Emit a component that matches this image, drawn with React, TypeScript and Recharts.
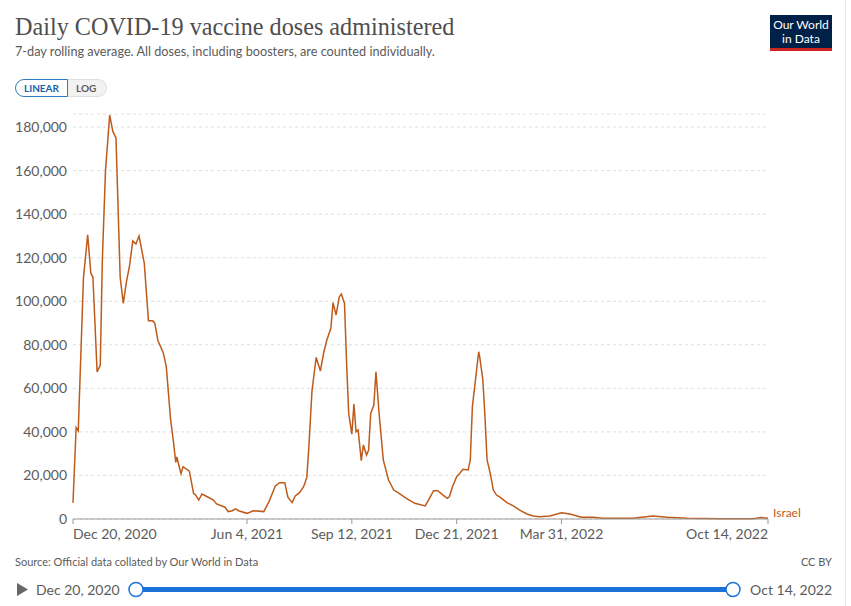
import React from "react";
import { LineChart, Line, XAxis, YAxis, CartesianGrid } from "recharts";

// days since Dec 20, 2020
const dayOffsets = [
  0, 3, 5, 10, 14, 17, 19, 23, 26, 28, 31, 35, 38, 41, 45, 48, 51, 54, 57, 60,
  63, 68, 72, 76, 78, 81, 86, 89, 93, 96, 98, 99, 103, 105, 111, 115, 117, 120,
  123, 129, 134, 137, 145, 148, 152, 155, 158, 166, 172, 182, 187, 193, 197,
  202, 205, 209, 212, 216, 220, 223, 225, 228, 232, 236, 239, 242, 246, 248,
  251, 254, 256, 259, 261, 263, 266, 268, 270, 272, 275, 277, 280, 282, 284,
  287, 289, 292, 296, 301, 306, 310, 318, 326, 336, 340, 344, 348, 353, 357,
  359, 362, 366, 369, 372, 377, 379, 381, 385, 387, 388, 391, 393, 395, 398,
  401, 404, 407, 414, 420, 427, 433, 439, 445, 455, 466, 474, 485, 496, 506,
  522, 534, 553, 567, 586, 617, 649, 656, 663,
];

const israelDoses = [
  7500, 42000, 40500, 111000, 130500, 113000, 111000, 67500, 70700, 119000,
  160000, 185500, 178000, 175000, 111000, 99000, 109000, 116500, 127700, 126300,
  130000, 117400, 91000, 91000, 90000, 82000, 76500, 70000, 46200, 34800, 26000,
  28500, 20800, 24000, 22000, 11800, 11000, 8700, 11500, 10000, 8700, 6900,
  5400, 3400, 3800, 4700, 3800, 2600, 3800, 3400, 8000, 15200, 16700, 16700,
  10000, 7500, 10600, 12100, 14800, 19000, 33000, 59000, 74200, 68000, 76000,
  82000, 87600, 99300, 93700, 102000, 103300, 99000, 71500, 48500, 39000, 52800,
  40100, 40900, 26800, 34000, 29400, 31700, 48500, 52300, 67600, 48500, 27100,
  17900, 13300, 12100, 9500, 7200, 6000, 9500, 13000, 13000, 11000, 9500, 10200,
  14800, 19400, 21000, 22800, 22500, 27100, 51600, 68400, 76800, 74500, 63800,
  47000, 27100, 21000, 13300, 11000, 10200, 7500, 6000, 3800, 2300, 1400, 1000,
  1400, 2900, 2300, 800, 800, 300, 300, 300, 1400, 800, 300, 100, 150, 700, 300,
];

const xTickDays = [0, 166, 266, 366, 466, 663];
const xTickLabels = [
  "Dec 20, 2020",
  "Jun 4, 2021",
  "Sep 12, 2021",
  "Dec 21, 2021",
  "Mar 31, 2022",
  "Oct 14, 2022",
];
const yTicks = [0, 20000, 40000, 60000, 80000, 100000, 120000, 140000, 160000, 180000];

const data = dayOffsets.map((d, i) => ({ day: d, doses: israelDoses[i] }));

const LINE_COLOR = "#be5b1b";
const FONT = "Lato, 'Noto Sans', sans-serif";

function XTick(props: any) {
  const { x, y, payload, index } = props;
  const last = xTickDays.length - 1;
  const anchor = index === 0 ? "start" : index === last ? "end" : "middle";
  return (
    <text x={x} y={y + 13} textAnchor={anchor} fill="#5b5b5b" fontSize={14} fontFamily={FONT}>
      {xTickLabels[xTickDays.indexOf(payload.value)]}
    </text>
  );
}

function EndLabel(props: any) {
  const { x, y, index } = props;
  if (index !== data.length - 1) return null;
  return (
    <text x={x + 5} y={y - 1} fill={LINE_COLOR} fontSize={12} fontFamily={FONT}>
      Israel
    </text>
  );
}

export default function App() {
  return (
    <div
      style={{
        position: "absolute",
        left: 0,
        top: 0,
        width: 851,
        height: 606,
        background: "#fff",
        fontFamily: FONT,
        overflow: "hidden",
      }}
    >
      <div style={{ position: "absolute", right: 5, top: 0, bottom: 0, width: 1, background: "#e6e6e6" }} />
      <div
        style={{
          position: "absolute",
          left: 15,
          top: 13,
          fontFamily: "'Liberation Serif', serif",
          fontSize: 24.2,
          color: "#4e4e4e",
          whiteSpace: "nowrap",
        }}
      >
        Daily COVID-19 vaccine doses administered
      </div>
      <div style={{ position: "absolute", left: 15, top: 43, fontSize: 12.7, color: "#5b5b5b", whiteSpace: "nowrap" }}>
        7-day rolling average. All doses, including boosters, are counted individually.
      </div>

      <div style={{ position: "absolute", left: 15, top: 79, display: "flex", height: 18, fontSize: 10, fontWeight: 700 }}>
        <div
          style={{
            border: "1px solid #2a7ac6",
            borderRadius: "9px 0 0 9px",
            color: "#1a5fa8",
            padding: "0 8px",
            lineHeight: "16px",
          }}
        >
          LINEAR
        </div>
        <div
          style={{
            background: "#f2f2f2",
            border: "1px solid #ddd",
            borderLeft: "none",
            borderRadius: "0 9px 9px 0",
            color: "#5b5b5b",
            padding: "0 10px 0 8px",
            lineHeight: "16px",
          }}
        >
          LOG
        </div>
      </div>

      <div
        style={{
          position: "absolute",
          left: 770,
          top: 15,
          width: 62,
          height: 36,
          background: "#002147",
          borderBottom: "3px solid #ce261e",
          color: "#fff",
          fontSize: 12,
          lineHeight: "14px",
          textAlign: "center",
          boxSizing: "border-box",
          paddingTop: 3,
        }}
      >
        Our World
        <br />
        in Data
      </div>

      <div style={{ position: "absolute", left: 0, top: 100 }}>
        <LineChart width={851} height={450} data={data} margin={{ top: 14, right: 83, bottom: 0, left: 0 }}>
          <CartesianGrid vertical={false} stroke="#dddddd" strokeDasharray="3 3" />
          <XAxis
            dataKey="day"
            type="number"
            domain={[0, 663]}
            ticks={xTickDays}
            interval={0}
            height={31}
            stroke="#999"
            tickSize={5}
            tick={<XTick />}
          />
          <YAxis
            type="number"
            domain={[0, 186000]}
            ticks={yTicks}
            interval={0}
            width={73}
            axisLine={false}
            tickLine={false}
            tickSize={6}
            tickMargin={0}
            tick={{ fill: "#5b5b5b", fontSize: 14, fontFamily: FONT }}
            tickFormatter={(v: number) => v.toLocaleString("en-US")}
          />
          <Line
            type="linear"
            dataKey="doses"
            stroke={LINE_COLOR}
            strokeWidth={1.5}
            dot={false}
            isAnimationActive={false}
            label={<EndLabel />}
          />
        </LineChart>
      </div>

      <div style={{ position: "absolute", left: 15, top: 555, fontSize: 11, color: "#5b5b5b" }}>
        Source: Official data collated by Our World in Data
      </div>
      <div style={{ position: "absolute", right: 19, top: 555, fontSize: 11, color: "#5b5b5b" }}>CC BY</div>

      <svg style={{ position: "absolute", left: 0, top: 575 }} width={851} height={30}>
        <polygon points="17,8 17,21 28,14.5" fill="#666" />
        <text x={36} y={19.5} fontSize={14} fill="#5b5b5b" fontFamily={FONT}>
          Dec 20, 2020
        </text>
        <rect x={136} y={12} width={597} height={5} fill="#1a72d9" rx={2} />
        <circle cx={136} cy={14.5} r={7} fill="#fff" stroke="#1a72d9" strokeWidth={1.5} />
        <circle cx={733} cy={14.5} r={7} fill="#fff" stroke="#1a72d9" strokeWidth={1.5} />
        <text x={832} y={19.5} fontSize={14} fill="#5b5b5b" fontFamily={FONT} textAnchor="end">
          Oct 14, 2022
        </text>
      </svg>
    </div>
  );
}
